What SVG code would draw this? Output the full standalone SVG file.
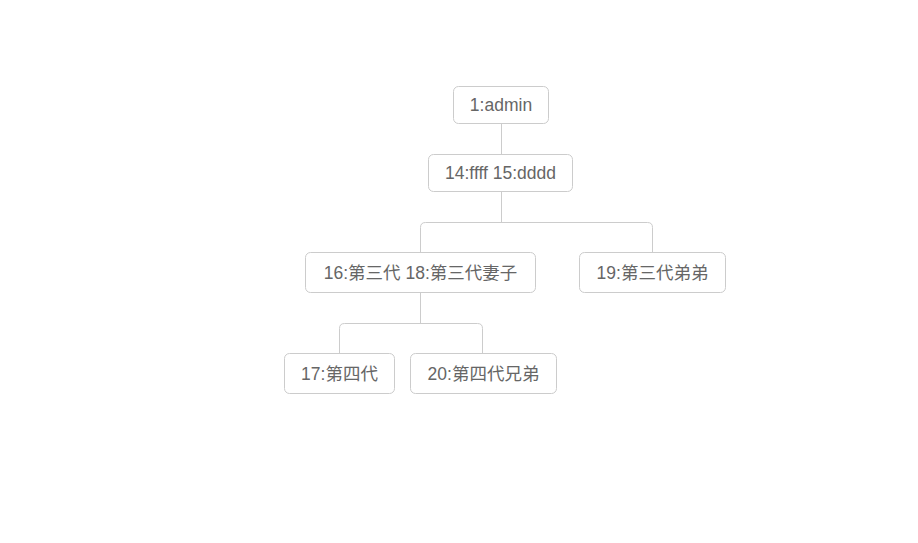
<svg xmlns="http://www.w3.org/2000/svg" width="918" height="543" viewBox="0 0 918 543">
<style>
.box{fill:#fff;stroke:#ccc;stroke-width:1}
.lbl{font-family:"Liberation Sans","Noto Sans CJK SC",sans-serif;font-size:17.5px;fill:#666;text-anchor:middle}
.con{fill:none;stroke:#ccc;stroke-width:1}
</style>
<rect width="918" height="543" fill="#fff"/>
<g id="connectors">
<path class="con" d="M501.5,123.5 V154.5"/>
<path class="con" d="M501.5,191.5 V222.5"/>
<path class="con" d="M420.5,252.5 V227.5 Q420.5,222.5 425.5,222.5 H647.5 Q652.5,222.5 652.5,227.5 V252.5"/>
<path class="con" d="M420.5,292.5 V323.5"/>
<path class="con" d="M339.5,353.5 V328.5 Q339.5,323.5 344.5,323.5 H477.5 Q482.5,323.5 482.5,328.5 V353.5"/>
</g>
<g id="n1"><rect class="box" x="453.5" y="86.5" width="95" height="37" rx="5"/><text class="lbl" x="501" y="111">1:admin</text></g>
<g id="n14"><rect class="box" x="428.5" y="154.5" width="144" height="37" rx="5"/><text class="lbl" x="500.5" y="179">14:ffff 15:dddd</text></g>
<g id="n16"><rect class="box" x="305.5" y="252.5" width="230" height="40" rx="5"/><text class="lbl" x="420.5" y="279">16:第三代 18:第三代妻子</text></g>
<g id="n19"><rect class="box" x="579.5" y="252.5" width="146" height="40" rx="5"/><text class="lbl" x="652.5" y="279">19:第三代弟弟</text></g>
<g id="n17"><rect class="box" x="284.5" y="353.5" width="110" height="40" rx="5"/><text class="lbl" x="339.5" y="380">17:第四代</text></g>
<g id="n20"><rect class="box" x="410.5" y="353.5" width="146" height="40" rx="5"/><text class="lbl" x="483.5" y="380">20:第四代兄弟</text></g>
</svg>
